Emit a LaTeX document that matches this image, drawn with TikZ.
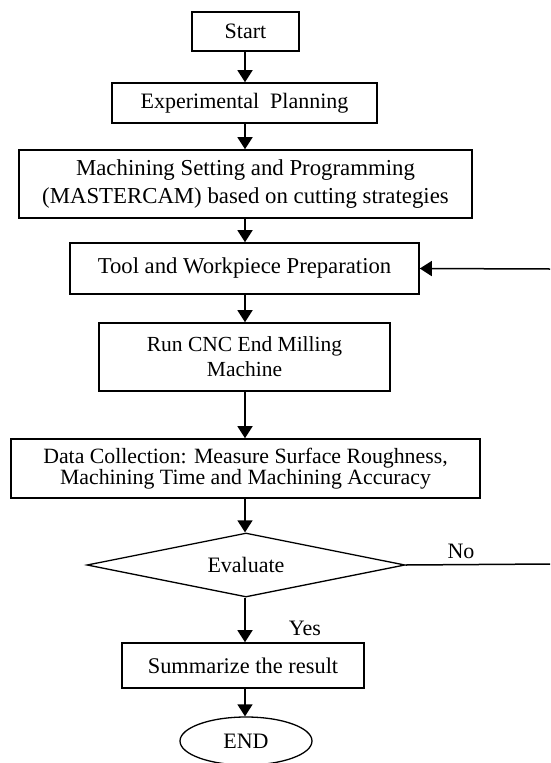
\documentclass[tikz,border=0pt]{standalone}
\usepackage{fontspec}
\setmainfont{Liberation Serif}
\usetikzlibrary{shapes.geometric,arrows.meta}
\begin{document}
\begin{tikzpicture}[x=1pt,y=-1pt,
  box/.style={draw,line width=1.6pt,rectangle,inner sep=0pt,align=center,font=\fontsize{22}{27}\selectfont},
  conn/.style={line width=1.5pt,-{Triangle[width=15pt,length=12pt]}},
  plain/.style={line width=1.5pt},
  lbl/.style={font=\fontsize{22}{26}\selectfont,inner sep=0pt}]
\useasboundingbox (0,0) rectangle (550,763);
\node[box,minimum width=107pt,minimum height=39pt] (start) at (245.5,31.5) {Start};
\node[box,minimum width=265pt,minimum height=40pt] (plan) at (244.5,103) {Experimental\ \ Planning};
\node[box,minimum width=453pt,minimum height=68pt,font=\fontsize{22.8}{28}\selectfont] (mach) at (245.5,184) {Machining Setting and Programming\\(MASTERCAM) based on cutting strategies};
\node[box,minimum width=349pt,minimum height=51pt,font=\fontsize{22.7}{27}\selectfont] (tool) at (244.5,268.5) {Tool and Workpiece\ Preparation};
\node[box,minimum width=291pt,minimum height=68pt,font=\fontsize{21.5}{25}\selectfont] (run) at (244.5,357) {Run CNC End Milling\\Machine};
\node[box,minimum width=469pt,minimum height=59pt,font=\fontsize{21.8}{21}\selectfont] (data) at (245.5,468.5) {Data Collection: Measure Surface Roughness,\\Machining Time and Machining Accuracy};
\node[draw,line width=1.3pt,diamond,aspect=4.97,inner sep=0pt,minimum width=318pt,minimum height=64pt,font=\fontsize{22}{26}\selectfont] (eval) at (246,565) {Evaluate};
\node[box,minimum width=242pt,minimum height=45pt,font=\fontsize{22.4}{26}\selectfont] (sum) at (243,665.5) {Summarize the result};
\node[draw,line width=1.3pt,ellipse,inner sep=0pt,minimum width=132pt,minimum height=48pt,font=\fontsize{22}{26}\selectfont] (end) at (246,741) {END};
\coordinate (fbin) at (550,269);
\coordinate (noout) at (550,564);
\draw[conn] (start.south -| 245,0) -- (plan.north -| 245,0);
\draw[conn] (plan.south -| 245,0) -- (mach.north -| 245,0);
\draw[conn] (mach.south -| 245,0) -- (tool.north -| 245,0);
\draw[conn] (tool.south -| 245,0) -- (run.north -| 245,0);
\draw[conn] (run.south -| 245,0) -- (data.north -| 245,0);
\draw[conn] (data.south -| 245,0) -- (eval.north -| 245,0);
\draw[conn] (eval.south -| 245,0) -- (sum.north -| 245,0);
\draw[conn] (sum.south -| 245,0) -- (end.north -| 245,0);
\draw[plain] (eval.east) -- (noout);
\draw[conn] (fbin) -- (tool.east);
\node[lbl] (no) at (461,551) {No};
\node[lbl] (yes) at (305,628) {Yes};
\end{tikzpicture}
\end{document}
